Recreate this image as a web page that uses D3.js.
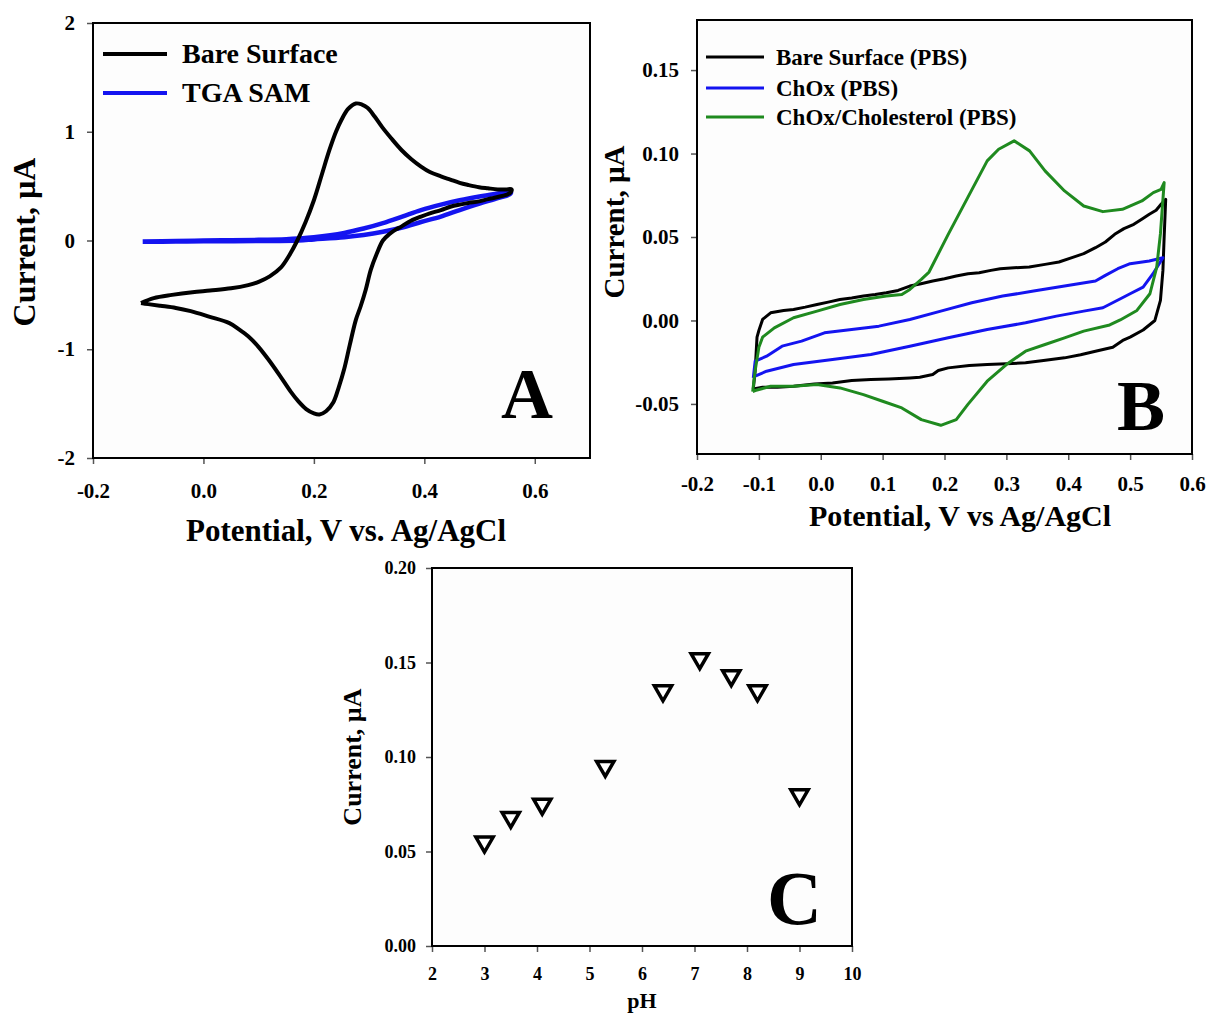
<!DOCTYPE html>
<html>
<head>
<meta charset="utf-8">
<script src="https://cdn.jsdelivr.net/npm/d3@7"></script>
<style>
    body { margin: 0; background: #fff; }
</style>
</head>
<body>
<svg id="chart"></svg>
<script>
// ---- Panel A : CV, potential (V) / current (uA)
const aBare = [
    [-0.113,-0.575],[-0.09,-0.53],[-0.057,-0.50],[-0.02,-0.475],[0.012,-0.46],[0.05,-0.44],
    [0.081,-0.41],[0.10,-0.38],[0.12,-0.33],[0.14,-0.25],[0.155,-0.14],[0.17,0.0],[0.185,0.17],
    [0.2,0.37],[0.214,0.60],[0.228,0.83],[0.24,1.0],[0.25,1.11],[0.262,1.21],[0.276,1.26],
    [0.287,1.25],[0.297,1.22],[0.31,1.14],[0.324,1.04],[0.34,0.94],[0.359,0.83],[0.376,0.75],
    [0.394,0.68],[0.41,0.63],[0.43,0.59],[0.447,0.56],[0.464,0.53],[0.48,0.51],[0.499,0.49],
    [0.515,0.48],[0.533,0.47],[0.548,0.47],[0.558,0.47],
    [0.556,0.44],[0.548,0.42],[0.533,0.40],[0.515,0.38],[0.499,0.36],[0.48,0.345],[0.464,0.33],
    [0.447,0.31],[0.43,0.28],[0.41,0.25],[0.394,0.22],[0.375,0.18],[0.359,0.13],[0.348,0.10],
    [0.337,0.06],[0.325,0.0],[0.314,-0.12],[0.303,-0.27],[0.294,-0.45],[0.285,-0.60],
    [0.276,-0.73],[0.265,-0.96],[0.255,-1.18],[0.245,-1.35],[0.235,-1.49],[0.222,-1.57],
    [0.21,-1.60],[0.2,-1.59],[0.186,-1.55],[0.172,-1.48],[0.158,-1.39],[0.138,-1.24],
    [0.117,-1.09],[0.1,-0.98],[0.081,-0.88],[0.065,-0.82],[0.047,-0.76],[0.01,-0.70],
    [-0.023,-0.65],[-0.05,-0.62],[-0.078,-0.60],[-0.1,-0.585],[-0.113,-0.575]
];
const aTga = [
    [-0.11,-0.01],[-0.05,-0.005],[0.0,0.0],[0.05,0.003],[0.1,0.006],[0.15,0.012],[0.172,0.018],
    [0.2,0.03],[0.255,0.07],[0.29,0.11],[0.325,0.16],[0.36,0.22],[0.394,0.28],[0.43,0.33],
    [0.464,0.37],[0.5,0.405],[0.53,0.43],[0.556,0.45],
    [0.556,0.43],[0.533,0.39],[0.5,0.34],[0.464,0.28],[0.43,0.22],[0.394,0.17],[0.36,0.12],
    [0.325,0.08],[0.29,0.05],[0.255,0.03],[0.2,0.01],[0.172,0.0],[0.1,-0.005],[0.0,-0.008],
    [-0.05,-0.01],[-0.11,-0.012]
];
const aLegend = ["Bare Surface", "TGA SAM"];
const aXTicks = [-0.2, 0.0, 0.2, 0.4, 0.6];
const aYTicks = [-2, -1, 0, 1, 2];

// ---- Panel B : CV in PBS
const bBare = [
    [-0.109,-0.041],[-0.106,-0.030],[-0.103,-0.010],[-0.1,-0.006],[-0.094,0.0006],[-0.081,0.0046],
    [-0.06,0.006],[-0.044,0.0066],[-0.025,0.008],[-0.006,0.0096],[0.012,0.011],[0.031,0.0126],
    [0.05,0.0135],[0.069,0.0146],[0.088,0.0155],[0.106,0.0166],[0.125,0.018],[0.144,0.0206],
    [0.162,0.022],[0.181,0.0236],[0.2,0.025],[0.219,0.0266],[0.238,0.028],[0.256,0.0286],
    [0.275,0.030],[0.29,0.031],[0.3125,0.0316],[0.337,0.032],[0.3625,0.0336],[0.385,0.035],
    [0.406,0.0376],[0.425,0.040],[0.444,0.0436],[0.46,0.047],[0.475,0.0516],[0.49,0.055],
    [0.506,0.0576],[0.52,0.061],[0.531,0.0636],[0.542,0.066],[0.55,0.0696],[0.5575,0.0726],
    [0.555,0.05],[0.553,0.03],[0.549,0.012],[0.54,0.0],[0.521,-0.0057],[0.5,-0.010],
    [0.488,-0.012],[0.472,-0.016],[0.444,-0.0184],[0.42,-0.0205],[0.394,-0.0224],[0.36,-0.024],
    [0.331,-0.0254],[0.3,-0.026],[0.269,-0.0264],[0.24,-0.027],[0.206,-0.0284],[0.19,-0.030],
    [0.181,-0.0324],[0.16,-0.034],[0.144,-0.0344],[0.11,-0.035],[0.081,-0.0354],[0.05,-0.036],
    [0.019,-0.0374],[-0.01,-0.038],[-0.044,-0.0394],[-0.07,-0.040],[-0.094,-0.040],[-0.109,-0.041]
];
const bChox = [
    [-0.109,-0.0344],[-0.106,-0.0244],[-0.0875,-0.0214],[-0.0625,-0.0154],[-0.031,-0.0124],
    [0.006,-0.0074],[0.05,-0.0054],[0.094,-0.0034],[0.144,0.0006],[0.194,0.0056],[0.244,0.0106],
    [0.294,0.0146],[0.344,0.0176],[0.394,0.0206],[0.444,0.0236],[0.46,0.027],[0.48,0.031],
    [0.5,0.034],[0.531,0.0356],[0.553,0.0376],
    [0.537,0.028],[0.521,0.020],[0.5,0.016],[0.4875,0.0136],[0.456,0.0076],[0.425,0.0056],
    [0.381,0.0026],[0.331,-0.0014],[0.269,-0.0054],[0.206,-0.0104],[0.144,-0.0154],
    [0.081,-0.0204],[0.019,-0.0234],[-0.044,-0.0264],[-0.0875,-0.0304],[-0.106,-0.0334],[-0.109,-0.0344]
];
const bChol = [
    [-0.11,-0.0426],[-0.106,-0.030],[-0.1,-0.016],[-0.094,-0.010],[-0.075,-0.0044],[-0.044,0.0016],
    [-0.006,0.0056],[0.031,0.0096],[0.069,0.0126],[0.106,0.0146],[0.131,0.0156],[0.144,0.0186],
    [0.1625,0.0246],[0.175,0.029],[0.206,0.0516],[0.2375,0.0736],[0.269,0.0956],[0.2875,0.1026],
    [0.3125,0.1076],[0.3375,0.1016],[0.3625,0.0896],[0.394,0.0776],[0.425,0.0686],[0.456,0.0652],
    [0.4875,0.0666],[0.519,0.0716],[0.5375,0.0766],[0.55,0.0786],[0.555,0.0826],
    [0.549,0.052],[0.543,0.032],[0.532,0.016],[0.511,0.006],[0.484,0.0003],[0.467,-0.0027],
    [0.425,-0.0064],[0.394,-0.0104],[0.3625,-0.0144],[0.331,-0.0184],[0.3,-0.0264],[0.269,-0.0364],
    [0.2375,-0.0504],[0.219,-0.0594],[0.194,-0.0628],[0.1625,-0.0594],[0.131,-0.0524],[0.1,-0.0484],
    [0.069,-0.0444],[0.031,-0.0404],[-0.006,-0.0384],[-0.044,-0.0394],[-0.081,-0.0394],[-0.106,-0.042],
    [-0.11,-0.0426]
];
const bLegend = ["Bare Surface (PBS)", "ChOx (PBS)", "ChOx/Cholesterol (PBS)"];
const bXTicks = [-0.2, -0.1, 0.0, 0.1, 0.2, 0.3, 0.4, 0.5, 0.6];
const bYTicks = [-0.05, 0.0, 0.05, 0.10, 0.15];

// ---- Panel C : pH dependence
const cPH = [3, 3.5, 4.1, 5.3, 6.4, 7.1, 7.7, 8.2, 9];
const cCurrent = [0.055, 0.068, 0.075, 0.095, 0.135, 0.152, 0.143, 0.135, 0.080];
const cXTicks = [2, 3, 4, 5, 6, 7, 8, 9, 10];
const cYTicks = [0.00, 0.05, 0.10, 0.15, 0.20];

const FONT = "'Liberation Serif', 'Times New Roman', serif";
const BLUE = "#1414f0";
const GREEN = "#1f8a1f";

const svg = d3.select("#chart")
    .attr("width", 1206)
    .attr("height", 1013)
    .style("background-color", "#fff");

svg.append("rect").attr("width", 1206).attr("height", 1013).attr("fill", "#fff");

const fmt = spec => {
    const f = d3.format(spec);
    return d => f(d).replace("\u2212", "-");
};

// frame + axes for one panel, returns scales
function panel(p) {
    const x = d3.scaleLinear().domain(p.xDomain).range([p.left, p.right]);
    const y = d3.scaleLinear().domain(p.yDomain).range([p.bottom, p.top]);

    svg.append("rect")
        .attr("x", p.left).attr("y", p.top)
        .attr("width", p.right - p.left).attr("height", p.bottom - p.top)
        .attr("fill", "#fdfdfd");

    const gx = svg.append("g")
        .attr("transform", `translate(0,${p.bottom})`)
        .call(d3.axisBottom(x).tickValues(p.xTicks).tickFormat(p.xFormat)
            .tickSize(6).tickSizeOuter(0).tickPadding(p.xPad));
    const gy = svg.append("g")
        .attr("transform", `translate(${p.left},0)`)
        .call(d3.axisLeft(y).tickValues(p.yTicks).tickFormat(p.yFormat)
            .tickSize(6).tickSizeOuter(0).tickPadding(p.yPad));

    [gx, gy].forEach(g => {
        g.select(".domain").remove();
        g.attr("font-family", FONT).attr("font-size", p.tickFont).attr("font-weight", "bold");
        g.selectAll("line").attr("stroke", "#555").attr("stroke-width", 1.5);
        g.selectAll("text").attr("fill", "#000");
    });

    return { x, y };
}

function frame(p) {
    svg.append("rect")
        .attr("x", p.left).attr("y", p.top)
        .attr("width", p.right - p.left).attr("height", p.bottom - p.top)
        .attr("fill", "none")
        .attr("stroke", "#000")
        .attr("stroke-width", 2);
}

function label(txt, x, y, size, opts = {}) {
    const t = svg.append("text")
        .attr("x", x).attr("y", y)
        .attr("font-family", FONT)
        .attr("font-weight", "bold")
        .attr("font-size", size)
        .attr("text-anchor", opts.anchor || "middle")
        .attr("fill", "#000")
        .text(txt);
    if (opts.rotate) t.attr("transform", `rotate(-90,${x},${y})`);
    return t;
}

// ================= A
const pA = {
    left: 93, right: 590, top: 23, bottom: 458,
    xDomain: [-0.2, 0.7], yDomain: [-2, 2],
    xTicks: aXTicks, yTicks: aYTicks,
    xFormat: fmt(".1f"), yFormat: fmt("d"),
    xPad: 19, yPad: 12, tickFont: 21
};
const A = panel(pA);

const lineA = d3.line().x(d => A.x(d[0])).y(d => A.y(d[1])).curve(d3.curveCatmullRom);

svg.append("path").datum(aTga)
    .attr("d", lineA).attr("fill", "none")
    .attr("stroke", BLUE).attr("stroke-width", 4.5).attr("stroke-linejoin", "round");
svg.append("path").datum(aBare)
    .attr("d", lineA).attr("fill", "none")
    .attr("stroke", "#000").attr("stroke-width", 4).attr("stroke-linejoin", "round");

frame(pA);

// legend A
[["#000", 54], [BLUE, 93]].forEach(([c, ly], i) => {
    svg.append("line").attr("x1", 103).attr("x2", 167).attr("y1", ly).attr("y2", ly)
        .attr("stroke", c).attr("stroke-width", 4);
    label(aLegend[i], 182, ly + 9, 28, { anchor: "start" });
});

label("Potential, V vs. Ag/AgCl", 346, 541, 31);
label("Current, \u00b5A", 35, 242, 32, { rotate: true });
label("A", 553, 418, 72, { anchor: "end" });

// ================= B
const pB = {
    left: 697, right: 1192, top: 20, bottom: 454,
    xDomain: [-0.2, 0.6], yDomain: [-0.08, 0.18],
    xTicks: bXTicks, yTicks: bYTicks,
    xFormat: fmt(".1f"), yFormat: fmt(".2f"),
    xPad: 16, yPad: 12, tickFont: 21
};
const B = panel(pB);

const lineB = d3.line().x(d => B.x(d[0])).y(d => B.y(d[1]));

[[bBare, "#000"], [bChox, BLUE], [bChol, GREEN]].forEach(([data, c]) => {
    svg.append("path").datum(data)
        .attr("d", lineB).attr("fill", "none")
        .attr("stroke", c).attr("stroke-width", 3).attr("stroke-linejoin", "round");
});

frame(pB);

[["#000", 57], [BLUE, 88], [GREEN, 117]].forEach(([c, ly], i) => {
    svg.append("line").attr("x1", 706).attr("x2", 764).attr("y1", ly).attr("y2", ly)
        .attr("stroke", c).attr("stroke-width", 3);
    label(bLegend[i], 776, ly + 8, 23, { anchor: "start" });
});

label("Potential, V vs Ag/AgCl", 960, 526, 30);
label("Current, \u00b5A", 624, 222, 29, { rotate: true });
label("B", 1165, 430, 72, { anchor: "end" });

// ================= C
const pC = {
    left: 432, right: 852, top: 568, bottom: 946,
    xDomain: [2, 10], yDomain: [0, 0.2],
    xTicks: cXTicks, yTicks: cYTicks,
    xFormat: fmt("d"), yFormat: fmt(".2f"),
    xPad: 15, yPad: 10, tickFont: 18
};
const C = panel(pC);
frame(pC);

const tri = d3.symbol().type(d3.symbolTriangle).size(130);
svg.selectAll(".pt")
    .data(cPH.map((p, i) => [p, cCurrent[i]]))
    .join("path")
    .attr("class", "pt")
    .attr("d", tri)
    .attr("transform", d => `translate(${C.x(d[0])},${C.y(d[1])}) rotate(180)`)
    .attr("fill", "#fff")
    .attr("stroke", "#000")
    .attr("stroke-width", 3.5);

label("pH", 642, 1008, 22);
label("Current, \u00b5A", 361, 757, 26, { rotate: true });
label("C", 822, 924, 76, { anchor: "end" });
</script>
</body>
</html>
